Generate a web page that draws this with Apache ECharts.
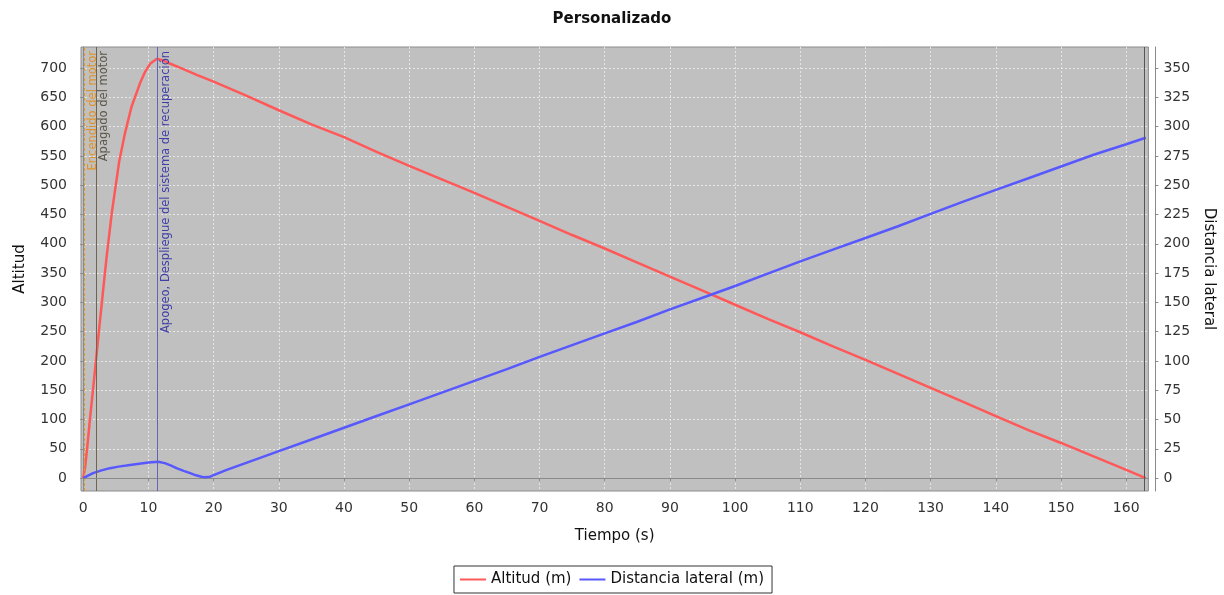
<!DOCTYPE html>
<html>
<head>
<meta charset="utf-8">
<script src="https://cdn.jsdelivr.net/npm/echarts@6/dist/echarts.min.js"></script>
<style>
html,body{margin:0;padding:0;background:#fff;}
#chart{width:1224px;height:595px;}
</style>
</head>
<body>
<div id="chart"></div>
<script>
// ---- Data ----
const altTime = [0, 0.3, 0.6, 1.0, 1.5, 2.0, 2.5, 3.0, 3.6, 4.4, 5.5, 6.4, 7.4, 8.7, 9.5, 10.3, 11.3, 12.0, 12.8, 15, 17.5, 20, 25, 30, 35, 40, 45, 50, 55, 60, 65, 70, 75, 80, 85, 90, 95, 100, 105, 110, 115, 120, 125, 130, 135, 140, 145, 150, 155, 160, 163];
const altitude = [0, 20, 52, 98, 152, 207, 262, 316, 380, 455, 540, 589, 634, 674, 694, 708, 716, 714, 710, 700, 688, 677, 653, 628, 604, 582, 557, 533, 510, 487, 463, 439, 415, 392, 368, 344, 320, 296, 272, 249, 225, 202, 178, 154, 130, 106, 82, 60, 37, 14, 0];

const latTime = [0, 0.5, 1.5, 2.8, 4.1, 5.4, 6.6, 8.3, 10.0, 11.5, 12.5, 13.4, 14.3, 15.4, 16.4, 17.3, 18.4, 19.3, 20, 22, 25, 30, 35, 40, 45, 50, 55, 60, 65, 70, 75, 80, 85, 90, 95, 100, 105, 110, 115, 120, 125, 130, 135, 140, 145, 150, 155, 160, 163];
const lateral = [0, 1.5, 4.3, 6.6, 8.5, 9.8, 10.7, 12.0, 13.3, 13.9, 12.8, 10.8, 8.5, 6.2, 4.3, 2.4, 0.8, 0.9, 2.5, 7.0, 13, 23, 33, 43, 53, 63, 73, 83, 93, 103.5, 113.5, 123.5, 133.5, 144, 154, 164, 174.5, 185, 195, 205, 215, 225.5, 236, 246, 256, 266, 276, 285, 290.5];

const eventTimes = [0.2, 1.95, 11.4, 162.8];
const eventLabels = ['Encendido del motor', 'Apagado del motor', 'Apogeo, Despliegue del sistema de recuperación', ''];

const xTicks = [0, 10, 20, 30, 40, 50, 60, 70, 80, 90, 100, 110, 120, 130, 140, 150, 160];
const yLeftTicks = [0, 50, 100, 150, 200, 250, 300, 350, 400, 450, 500, 550, 600, 650, 700];
const yRightTicks = [0, 25, 50, 75, 100, 125, 150, 175, 200, 225, 250, 275, 300, 325, 350];

const seriesNames = ['Altitud (m)', 'Distancia lateral (m)'];

// ---- Styles ----
const FONT = 'DejaVu Sans';
const eventStyles = [
  {color: '#e0982e', type: [3, 2], text: '#e0922a'},
  {color: '#6e6452', type: 'solid', text: '#5e574a'},
  {color: '#6262b8', type: 'solid', text: '#4040a8'},
  {color: '#555555', type: 'solid', text: '#555555'}
];

const altPairs = altTime.map((t, i) => [t, altitude[i]]);
const latPairs = latTime.map((t, i) => [t, lateral[i]]);

const markData = eventTimes.map((t, i) => ({
  xAxis: t,
  lineStyle: {color: eventStyles[i].color, type: eventStyles[i].type, width: 1},
  label: {
    show: eventLabels[i] !== '',
    formatter: eventLabels[i],
    position: 'insideEndBottom',
    color: eventStyles[i].text,
    fontFamily: FONT,
    fontSize: 11.5,
    distance: [4, 2]
  }
}));
markData.push({
  yAxis: 0,
  lineStyle: {color: '#8a8a8a', type: [4, 3], width: 1},
  label: {show: false}
});

const axisLabelBase = {color: '#333', fontFamily: FONT, fontSize: 14};

const option = {
  animation: false,
  backgroundColor: '#ffffff',
  title: {
    text: 'Personalizado',
    left: 'center',
    top: 12,
    padding: 0,
    textStyle: {fontFamily: FONT, fontSize: 15, fontWeight: 'bold', color: '#111'}
  },
  legend: {
    data: seriesNames,
    bottom: 2,
    left: 'center',
    backgroundColor: '#fff',
    borderColor: '#333',
    borderWidth: 1,
    borderRadius: 0,
    padding: [6, 8, 6, 6],
    itemGap: 8,
    itemWidth: 26,
    itemHeight: 2,
    icon: 'rect',
    textStyle: {fontFamily: FONT, fontSize: 15, color: '#111'}
  },
  grid: {
    left: 81, right: 75, top: 47, bottom: 104,
    show: true,
    backgroundColor: '#c0c0c0',
    borderColor: '#8c8c8c',
    borderWidth: 1,
    containLabel: false
  },
  xAxis: {
    type: 'value',
    min: -0.35,
    max: 163.4,
    offset: 4,
    name: 'Tiempo (s)',
    nameLocation: 'middle',
    nameGap: 34,
    nameTextStyle: {fontFamily: FONT, fontSize: 15, color: '#111'},
    axisLine: {show: true, lineStyle: {color: '#8a8a8a'}},
    axisTick: {show: true, length: 3, lineStyle: {color: '#8a8a8a'}, customValues: xTicks},
    axisLabel: Object.assign({margin: 6, customValues: xTicks}, axisLabelBase),
    splitLine: {show: true, lineStyle: {color: '#e6e6e6', type: [2, 2], width: 1}}
  },
  yAxis: [
    {
      type: 'value',
      min: -22,
      max: 736,
      offset: 5,
      position: 'left',
      name: 'Altitud',
      nameLocation: 'middle',
      nameGap: 48,
      nameTextStyle: {fontFamily: FONT, fontSize: 15, color: '#111'},
      axisLine: {show: true, lineStyle: {color: '#8a8a8a'}},
      axisTick: {show: true, length: 3, lineStyle: {color: '#8a8a8a'}, customValues: yLeftTicks},
      axisLabel: Object.assign({margin: 9, customValues: yLeftTicks}, axisLabelBase),
      splitLine: {show: true, lineStyle: {color: '#e6e6e6', type: [2, 2], width: 1}}
    },
    {
      type: 'value',
      min: -11,
      max: 368,
      offset: 7,
      position: 'right',
      name: 'Distancia lateral',
      nameLocation: 'middle',
      nameGap: 44,
      nameRotate: -90,
      nameTextStyle: {fontFamily: FONT, fontSize: 15, color: '#111'},
      axisLine: {show: true, lineStyle: {color: '#8a8a8a'}},
      axisTick: {show: true, length: 3, lineStyle: {color: '#8a8a8a'}, customValues: yRightTicks},
      axisLabel: Object.assign({margin: 8, customValues: yRightTicks}, axisLabelBase),
      splitLine: {show: false}
    }
  ],
  series: [
    {
      name: 'markers',
      type: 'line',
      xAxisIndex: 0,
      yAxisIndex: 0,
      data: [],
      silent: true,
      z: 1,
      markLine: {
        silent: true,
        symbol: ['none', 'none'],
        animation: false,
        data: markData
      }
    },
    {
      name: seriesNames[0],
      type: 'line',
      yAxisIndex: 0,
      data: altPairs,
      showSymbol: false,
      smooth: false,
      z: 3,
      lineStyle: {color: '#ff5858', width: 2.5},
      itemStyle: {color: '#ff5858'}
    },
    {
      name: seriesNames[1],
      type: 'line',
      yAxisIndex: 1,
      data: latPairs,
      showSymbol: false,
      smooth: false,
      z: 3,
      lineStyle: {color: '#5858ff', width: 2.5},
      itemStyle: {color: '#5858ff'}
    }
  ]
};

const chart = echarts.init(document.getElementById('chart'), null, {renderer: 'canvas'});
chart.setOption(option);
</script>
</body>
</html>
